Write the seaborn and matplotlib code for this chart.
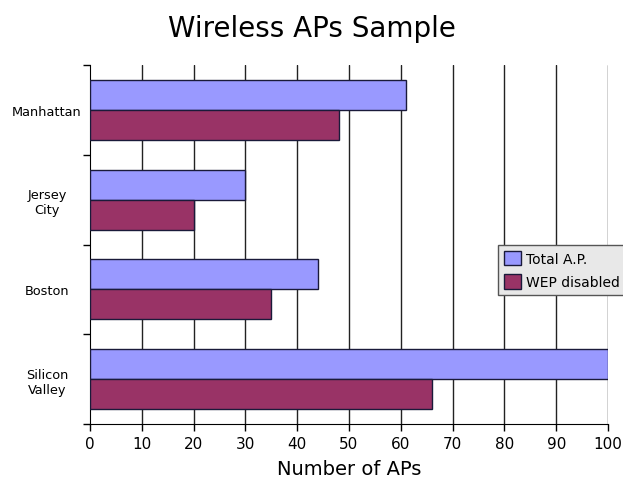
import matplotlib
matplotlib.use("Agg")
import matplotlib.pyplot as plt
import seaborn as sns
import pandas as pd
from matplotlib.ticker import FixedLocator

cities = ["Manhattan", "Jersey\nCity", "Boston", "Silicon\nValley"]
total_ap = [61, 30, 44, 100]
wep_disabled = [48, 20, 35, 66]
series = ["Total A.P.", "WEP disabled"]
colors = ["#9999ff", "#993366"]
x_ticks = list(range(0, 101, 10))

df = pd.DataFrame({
    "city": cities * 2,
    "value": total_ap + wep_disabled,
    "series": [series[0]] * len(cities) + [series[1]] * len(cities),
})

sns.set_style("white")
plt.rcParams['font.family'] = ['DejaVu Sans']
plt.rcParams['text.color'] = 'black'
plt.rcParams['axes.labelcolor'] = 'black'
plt.rcParams['xtick.color'] = 'black'
plt.rcParams['ytick.color'] = 'black'

fig = plt.figure(figsize=(6.23, 4.81), dpi=100)
ax = fig.add_axes([90/623, 1 - 425/481, (608-90)/623, (425-66)/481])

sns.barplot(data=df, y="city", x="value", hue="series", orient="h",
            palette=colors, saturation=1, width=2/3, edgecolor="#1a1a3a",
            linewidth=1, ax=ax, zorder=3)

ax.set_xlim(0, 100)
ax.set_ylim(3.5, -0.5)
ax.set_xticks(x_ticks)
ax.set_xticklabels([str(t) for t in x_ticks], fontsize=11)
ax.tick_params(axis="x", direction="out", length=5, width=1, color="black", bottom=True)
ax.tick_params(axis="y", which="major", length=0, labelsize=9.3, pad=0)
ax.yaxis.set_minor_locator(FixedLocator([-0.5, 0.5, 1.5, 2.5, 3.5]))
ax.tick_params(axis="y", which="minor", direction="out", length=5, width=1, color="black", left=True)
for lbl in ax.get_yticklabels():
    lbl.set_horizontalalignment("center")
    lbl.set_multialignment("center")
    lbl.set_x(-43/518)

for t in x_ticks[1:]:
    ax.axvline(t, color="#222222", lw=1, zorder=1)

for s in ["top", "right"]:
    ax.spines[s].set_visible(False)
ax.spines["left"].set_color("black")
ax.spines["bottom"].set_color("black")

ax.set_ylabel("")
ax.set_xlabel("Number of APs", fontsize=14, labelpad=6)
fig.suptitle("Wireless APs Sample", fontsize=20, y=0.968)

leg = ax.legend(loc="upper left", bbox_to_anchor=(498/623, 1 - 246/481),
                bbox_transform=fig.transFigure, frameon=True, fancybox=False,
                fontsize=10, handlelength=1.2, handleheight=1.2,
                borderpad=0.45, labelspacing=0.6, handletextpad=0.4,
                borderaxespad=0)
leg.get_frame().set_facecolor("#e8e8e8")
leg.get_frame().set_edgecolor("#555555")
leg.get_frame().set_alpha(1)
leg.set_zorder(5)

fig.savefig("out.png", dpi=100)
